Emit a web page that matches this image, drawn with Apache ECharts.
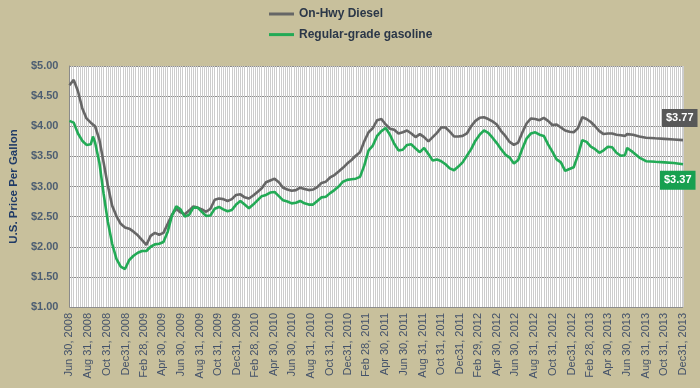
<!DOCTYPE html>
<html>
<head>
<meta charset="utf-8">
<script src="https://cdn.jsdelivr.net/npm/echarts@6/dist/echarts.min.js"></script>
<style>
html,body{margin:0;padding:0;background:#c8c09c;}
#chart{width:700px;height:388px;}
</style>
</head>
<body>
<div id="chart"></div>
<script>
// ---- Data ----
const seriesNames = ['On-Hwy Diesel', 'Regular-grade gasoline'];

const weekDates = [
  '2008-06-30','2008-07-14','2008-07-28','2008-08-11','2008-08-25','2008-09-08','2008-09-15','2008-09-22','2008-10-06','2008-10-20','2008-11-03','2008-11-17','2008-12-01','2008-12-15','2008-12-29',
  '2009-01-12','2009-01-26','2009-02-09','2009-02-23','2009-03-09','2009-03-23','2009-04-06','2009-04-20','2009-05-04','2009-05-18','2009-06-01','2009-06-15','2009-06-29','2009-07-13','2009-07-27','2009-08-10','2009-08-24','2009-09-07','2009-09-21','2009-10-05','2009-10-19','2009-11-02','2009-11-16','2009-11-30','2009-12-14','2009-12-28',
  '2010-01-11','2010-01-25','2010-02-08','2010-02-22','2010-03-08','2010-03-22','2010-04-05','2010-04-19','2010-05-03','2010-05-17','2010-05-31','2010-06-14','2010-06-28','2010-07-12','2010-07-26','2010-08-09','2010-08-23','2010-09-06','2010-09-20','2010-10-04','2010-10-18','2010-11-01','2010-11-15','2010-11-29','2010-12-13','2010-12-27',
  '2011-01-10','2011-01-24','2011-02-07','2011-02-21','2011-03-07','2011-03-21','2011-04-04','2011-04-18','2011-05-02','2011-05-16','2011-05-30','2011-06-13','2011-06-27','2011-07-11','2011-07-25','2011-08-08','2011-08-22','2011-09-05','2011-09-19','2011-10-03','2011-10-17','2011-10-31','2011-11-14','2011-11-28','2011-12-12','2011-12-26',
  '2012-01-09','2012-01-23','2012-02-06','2012-02-20','2012-03-05','2012-03-19','2012-04-02','2012-04-16','2012-04-30','2012-05-14','2012-05-28','2012-06-11','2012-06-25','2012-07-09','2012-07-23','2012-08-06','2012-08-20','2012-09-03','2012-09-17','2012-10-01','2012-10-15','2012-10-29','2012-11-12','2012-11-26','2012-12-10','2012-12-24',
  '2013-01-07','2013-01-21','2013-02-04','2013-02-18','2013-03-04','2013-03-18','2013-04-01','2013-04-15','2013-04-29','2013-05-13','2013-05-27','2013-06-10','2013-06-24','2013-07-01'
];

const dieselWeekly = [
  4.68,4.77,4.58,4.30,4.13,4.06,4.03,4.00,3.78,3.40,3.01,2.68,2.51,2.38,2.32,
  2.30,2.25,2.19,2.11,2.03,2.18,2.23,2.20,2.23,2.38,2.53,2.63,2.57,2.54,2.60,2.67,2.65,2.62,2.58,2.63,2.78,2.80,2.79,2.76,2.79,2.86,
  2.87,2.82,2.80,2.85,2.91,2.97,3.07,3.10,3.13,3.07,2.98,2.95,2.93,2.94,2.98,2.96,2.94,2.95,2.99,3.06,3.08,3.15,3.19,3.25,3.31,3.38,
  3.44,3.51,3.57,3.75,3.90,3.97,4.10,4.12,4.03,3.96,3.94,3.88,3.90,3.93,3.88,3.82,3.87,3.82,3.75,3.82,3.89,3.98,3.98,3.91,3.83,3.83,
  3.84,3.88,4.00,4.09,4.14,4.15,4.12,4.08,4.03,3.92,3.84,3.74,3.69,3.73,3.90,4.05,4.13,4.12,4.10,4.14,4.09,4.02,4.03,3.98,3.93,3.91,
  3.90,3.97,4.15,4.12,4.07,4.00,3.92,3.87,3.88,3.88,3.86,3.85,3.84,3.87
];

const gasolineWeekly = [
  4.09,4.06,3.88,3.76,3.69,3.70,3.83,3.73,3.40,2.88,2.41,2.05,1.80,1.67,1.63,
  1.78,1.85,1.90,1.93,1.93,2.00,2.04,2.05,2.08,2.25,2.52,2.67,2.62,2.50,2.53,2.65,2.65,2.58,2.51,2.52,2.63,2.66,2.62,2.59,2.61,2.70,
  2.76,2.70,2.64,2.70,2.77,2.84,2.86,2.90,2.91,2.84,2.77,2.75,2.72,2.73,2.76,2.72,2.70,2.70,2.76,2.82,2.83,2.89,2.94,3.00,3.08,3.11,
  3.12,3.13,3.16,3.35,3.60,3.68,3.84,3.92,3.97,3.86,3.71,3.60,3.61,3.69,3.70,3.63,3.57,3.64,3.54,3.43,3.45,3.42,3.37,3.30,3.27,3.33,
  3.40,3.51,3.62,3.76,3.86,3.93,3.89,3.81,3.72,3.62,3.53,3.48,3.38,3.44,3.63,3.80,3.88,3.90,3.86,3.84,3.70,3.58,3.45,3.40,3.26,3.29,
  3.32,3.52,3.77,3.74,3.66,3.62,3.56,3.60,3.66,3.65,3.56,3.51,3.52,3.64
];

// forecast portion (smooth tail after Jul 2013)
const forecastDates = ['2013-07-20','2013-08-10','2013-09-01','2013-10-01','2013-11-01','2013-12-01','2013-12-31'];
const dieselForecast = [3.86,3.83,3.81,3.80,3.79,3.78,3.77];
const gasolineForecast = [3.57,3.48,3.42,3.41,3.40,3.39,3.37];

const tickDates = [
  '2008-06-30','2008-08-31','2008-10-31','2008-12-31',
  '2009-02-28','2009-04-30','2009-06-30','2009-08-31','2009-10-31','2009-12-31',
  '2010-02-28','2010-04-30','2010-06-30','2010-08-31','2010-10-31','2010-12-31',
  '2011-02-28','2011-04-30','2011-06-30','2011-08-31','2011-10-31','2011-12-31',
  '2012-02-29','2012-04-30','2012-06-30','2012-08-31','2012-10-31','2012-12-31',
  '2013-02-28','2013-04-30','2013-06-30','2013-08-31','2013-10-31','2013-12-31'
];
const tickLabels = [
  'Jun 30, 2008','Aug 31, 2008','Oct 31, 2008','Dec31, 2008',
  'Feb 28, 2009','Apr 30, 2009','Jun 30, 2009','Aug 31, 2009','Oct 31, 2009','Dec31, 2009',
  'Feb 28, 2010','Apr 30, 2010','Jun 30, 2010','Aug 31, 2010','Oct 31, 2010','Dec31, 2010',
  'Feb 28, 2011','Apr 30, 2011','Jun 30, 2011','Aug 31, 2011','Oct 31, 2011','Dec31, 2011',
  'Feb 29, 2012','Apr 30, 2012','Jun 30, 2012','Aug 31, 2012','Oct 31, 2012','Dec31, 2012',
  'Feb 28, 2013','Apr 30, 2013','Jun 30, 2013','Aug 31, 2013','Oct 31, 2013','Dec31, 2013'
];

const yTicks = ['$1.00','$1.50','$2.00','$2.50','$3.00','$3.50','$4.00','$4.50','$5.00'];

// ---- Build ----
const DAY = 86400000;
const t0 = Date.parse(tickDates[0]);
const toDay = d => Math.round((Date.parse(d) - t0) / DAY);

const allDates = weekDates.concat(forecastDates);
const dieselAll = dieselWeekly.concat(dieselForecast);
const gasAll = gasolineWeekly.concat(gasolineForecast);

const dieselData = allDates.map((d, i) => [toDay(d), dieselAll[i]]);
const gasData = allDates.map((d, i) => [toDay(d), gasAll[i]]);

const tickDays = tickDates.map(toDay);
const labelByDay = {};
tickDays.forEach((d, i) => { labelByDay[d] = tickLabels[i]; });
const endDay = tickDays[tickDays.length - 1];

const chart = echarts.init(document.getElementById('chart'));
chart.setOption({
  backgroundColor: '#c8c09c',
  animation: false,
  legend: {
    orient: 'vertical',
    left: 264,
    top: 2,
    itemWidth: 25,
    itemHeight: 3,
    itemGap: 6.6,
    icon: 'rect',
    textStyle: { fontFamily: 'Liberation Sans, Arial, sans-serif', fontSize: 12, fontWeight: 'bold', color: '#2b3748', lineHeight: 14 },
    data: seriesNames
  },
  grid: { left: 56, top: 66, width: 627, height: 241, backgroundColor: '#ffffff', show: true, borderWidth: 0 },
  xAxis: {
    type: 'value',
    min: 0,
    max: endDay,
    interval: 7,
    axisLine: { show: false },
    axisTick: { show: false },
    splitLine: { show: true, lineStyle: { color: '#cccccc', width: 1 } },
    axisLabel: {
      customValues: tickDays,
      rotate: 90,
      margin: 6,
      fontFamily: 'Liberation Sans, Arial, sans-serif',
      fontSize: 11,
      color: '#44526a',
      formatter: v => labelByDay[Math.round(v)] || ''
    }
  },
  yAxis: {
    type: 'value',
    min: 1,
    max: 5,
    interval: 0.5,
    name: 'U.S. Price Per Gallon',
    nameLocation: 'middle',
    nameGap: 41,
    nameTextStyle: { fontFamily: 'Liberation Sans, Arial, sans-serif', fontSize: 11.5, fontWeight: 'bold', color: '#1f3a66' },
    axisLine: { show: true, lineStyle: { color: '#8a8a8a', width: 1 } },
    axisTick: { show: false },
    splitLine: { show: true, lineStyle: { color: '#8c8c8c', width: 1 } },
    axisLabel: {
      margin: 11,
      fontFamily: 'Liberation Sans, Arial, sans-serif',
      fontSize: 11,
      fontWeight: 'bold',
      color: '#4d5e72',
      formatter: v => yTicks[Math.round((v - 1) / 0.5)]
    }
  },
  series: [
    {
      name: seriesNames[0],
      type: 'line',
      data: dieselData,
      showSymbol: false,
      color: '#666666',
      lineStyle: { color: '#666666', width: 2.6 },
      endLabel: {
        show: true,
        formatter: p => '$' + p.value[1].toFixed(2),
        color: '#ffffff',
        backgroundColor: '#585858',
        padding: [4, 4, 3, 4],
        fontFamily: 'Liberation Sans, Arial, sans-serif',
        fontSize: 11,
        fontWeight: 'bold',
        distance: 0,
        align: 'left',
        verticalAlign: 'middle',
        offset: [-21, -22]
      }
    },
    {
      name: seriesNames[1],
      type: 'line',
      data: gasData,
      showSymbol: false,
      color: '#22aa55',
      lineStyle: { color: '#22aa55', width: 2.6 },
      endLabel: {
        show: true,
        formatter: p => '$' + p.value[1].toFixed(2),
        color: '#ffffff',
        backgroundColor: '#17a050',
        padding: [4, 4, 4, 4],
        fontFamily: 'Liberation Sans, Arial, sans-serif',
        fontSize: 11,
        fontWeight: 'bold',
        distance: 0,
        align: 'left',
        verticalAlign: 'middle',
        offset: [-23, 16]
      }
    }
  ]
});
</script>
</body>
</html>
